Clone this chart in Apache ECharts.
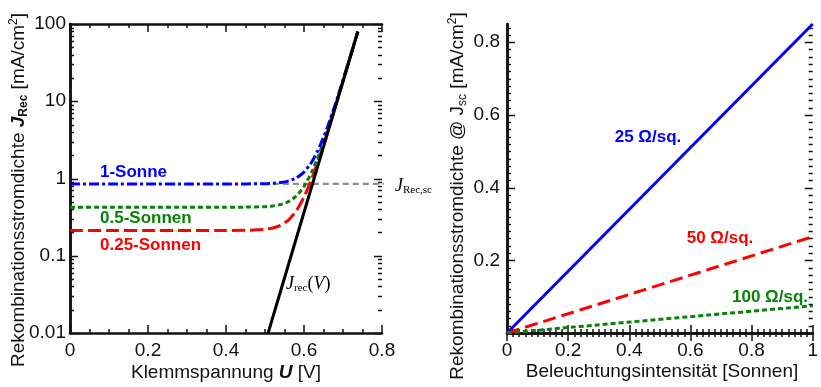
<!DOCTYPE html>
<html>
<head>
<meta charset="utf-8">
<script src="https://cdn.jsdelivr.net/npm/echarts@6/dist/echarts.min.js"></script>
<style>
  html, body { margin: 0; padding: 0; background: #fff; }
  #chart { width: 821px; height: 387px; }
</style>
</head>
<body>
<div id="chart"></div>
<script>
// Left panel: recombination current density vs. terminal voltage (log scale)
const voltage = [0, 0.1, 0.2, 0.3, 0.4, 0.45, 0.5, 0.52, 0.54, 0.56, 0.58, 0.6, 0.62, 0.64, 0.66, 0.68, 0.7, 0.72, 0.738];
const jOneSun = [0.85, 0.85, 0.85, 0.85, 0.85, 0.851, 0.857, 0.866, 0.885, 0.926, 1.016, 1.21, 1.64, 2.58, 4.62, 9.07, 18.8, 40.0, 80];
const jHalfSun = [0.425, 0.425, 0.425, 0.425, 0.425, 0.426, 0.432, 0.441, 0.46, 0.501, 0.591, 0.787, 1.215, 2.155, 4.195, 8.645, 18.3, 39.6, 79.4];
const jQuarterSun = [0.2125, 0.2125, 0.2125, 0.2125, 0.2125, 0.2135, 0.22, 0.229, 0.248, 0.289, 0.379, 0.575, 1.0, 1.94, 3.98, 8.43, 18.1, 39.4, 79.2];
const jrecVoltage = [0.508, 0.738];
const jrecValues = [0.01, 80];
const jscVoltage = [0.52, 0.838];
const jscValues = [0.85, 0.85];

// Right panel: recombination current density at Jsc vs. illumination
const intensity = [0, 1];
const rsh25 = [0, 0.85];
const rsh50 = [0, 0.265];
const rsh100 = [0, 0.075];

// Y tick positions (drawn inward on both sides of each frame)
const logMajorTicks = [0.01, 0.1, 1, 10, 100];
const logMinorTicks = [0.02, 0.03, 0.04, 0.05, 0.06, 0.07, 0.08, 0.09,
                       0.2, 0.3, 0.4, 0.5, 0.6, 0.7, 0.8, 0.9,
                       2, 3, 4, 5, 6, 7, 8, 9,
                       20, 30, 40, 50, 60, 70, 80, 90];
const linMajorTicks = [0.2, 0.4, 0.6, 0.8];
const linMinorTicks = [];
for (let i = 1; i <= 42; i++) { if (i % 10 !== 0) linMinorTicks.push(+(i * 0.02).toFixed(2)); }

const BLUE = '#0000ff', GREEN = '#0a820a', RED = '#ff0000', INK = '#111';
const SANS = 'Liberation Sans, Arial, sans-serif';
const SERIF = 'Liberation Serif, Times New Roman, serif';

const zip = (xs, ys) => xs.map((x, i) => [x, ys[i]]);

// Draws a short inward tick at the left and right edges of the grid for each value
function yTickRenderer(params, api) {
  const cs = params.coordSys;
  const len = api.value(2);
  const p = api.coord([api.value(0), api.value(1)]);
  const y = Math.round(p[1]) + 0.5;
  const st = { stroke: INK, lineWidth: 1.5 };
  return {
    type: 'group',
    children: [
      { type: 'line', shape: { x1: cs.x, y1: y, x2: cs.x + len, y2: y }, style: st },
      { type: 'line', shape: { x1: cs.x + cs.width, y1: y, x2: cs.x + cs.width - len, y2: y }, style: st }
    ]
  };
}
const tickData = (majors, minors) => majors.map(v => [0, v, 8]).concat(minors.map(v => [0, v, 4]));

const axisLineStyle = { show: true, lineStyle: { color: INK, width: 2.5 } };
const labelStyle = { color: INK, fontSize: 19, fontFamily: SANS };
const xTick = { inside: true, length: 8, lineStyle: { color: INK, width: 1.5 } };
const LW = 3;

const chart = echarts.init(document.getElementById('chart'), null, { renderer: 'canvas' });

chart.setOption({
  animation: false,
  backgroundColor: '#fff',
  grid: [
    { left: 70, top: 24, width: 312, height: 309 },
    { left: 507, top: 24, width: 311, height: 309 }
  ],
  xAxis: [
    { gridIndex: 0, type: 'value', min: 0, max: 0.8, interval: 0.2, position: 'bottom',
      axisLine: axisLineStyle, axisTick: xTick,
      minorTick: { show: true, splitNumber: 4, length: 4, lineStyle: { color: INK, width: 1.5 } },
      splitLine: { show: false }, minorSplitLine: { show: false },
      axisLabel: Object.assign({ margin: 8, formatter: v => String(+v.toFixed(1)) }, labelStyle) },
    { gridIndex: 0, type: 'value', min: 0, max: 0.8, interval: 0.2, position: 'top',
      axisLine: axisLineStyle, axisTick: xTick,
      minorTick: { show: true, splitNumber: 4, length: 4, lineStyle: { color: INK, width: 1.5 } },
      splitLine: { show: false }, axisLabel: { show: false } },
    { gridIndex: 1, type: 'value', min: 0, max: 1, interval: 0.2, position: 'bottom',
      axisLine: axisLineStyle, axisTick: xTick,
      minorTick: { show: true, splitNumber: 10, length: 4, lineStyle: { color: INK, width: 1.5 } },
      splitLine: { show: false }, minorSplitLine: { show: false },
      axisLabel: Object.assign({ margin: 8, formatter: v => String(+v.toFixed(1)) }, labelStyle) },
    { gridIndex: 1, type: 'value', min: 0, max: 1, interval: 0.2, position: 'top',
      axisLine: axisLineStyle, axisTick: xTick,
      minorTick: { show: true, splitNumber: 10, length: 4, lineStyle: { color: INK, width: 1.5 } },
      splitLine: { show: false }, axisLabel: { show: false } }
  ],
  yAxis: [
    { gridIndex: 0, type: 'log', logBase: 10, min: 0.01, max: 100, position: 'left',
      axisLine: axisLineStyle, axisTick: { show: false },
      minorTick: { show: false }, splitLine: { show: false },
      axisLabel: Object.assign({ margin: 4, formatter: v => String(+(+v).toPrecision(3)) }, labelStyle) },
    { gridIndex: 0, type: 'log', logBase: 10, min: 0.01, max: 100, position: 'right',
      axisLine: axisLineStyle, axisTick: { show: false },
      minorTick: { show: false }, splitLine: { show: false }, axisLabel: { show: false } },
    { gridIndex: 1, type: 'value', min: 0, max: 0.85, interval: 0.2, position: 'left',
      axisLine: axisLineStyle, axisTick: { show: false },
      minorTick: { show: false }, splitLine: { show: false },
      axisLabel: Object.assign({ margin: 7, showMaxLabel: false,
        formatter: v => (v < 0.01 || v > 0.81) ? '' : v.toFixed(1) }, labelStyle) },
    { gridIndex: 1, type: 'value', min: 0, max: 0.85, interval: 0.2, position: 'right',
      axisLine: axisLineStyle, axisTick: { show: false },
      minorTick: { show: false }, splitLine: { show: false }, axisLabel: { show: false } }
  ],
  series: [
    // inward y ticks for both frames
    { type: 'custom', xAxisIndex: 0, yAxisIndex: 0, silent: true, clip: false, z: 5,
      renderItem: yTickRenderer, data: tickData(logMajorTicks, logMinorTicks) },
    { type: 'custom', xAxisIndex: 2, yAxisIndex: 2, silent: true, clip: false, z: 5,
      renderItem: yTickRenderer, data: tickData(linMajorTicks, linMinorTicks) },

    // left panel curves
    { name: 'JRec,sc', type: 'line', xAxisIndex: 0, yAxisIndex: 0, clip: false, symbol: 'none',
      lineStyle: { color: '#8c8c8c', width: 2.2, type: [6, 4] }, data: zip(jscVoltage, jscValues), z: 2 },
    { name: '0.25-Sonnen', type: 'line', xAxisIndex: 0, yAxisIndex: 0, symbol: 'none', smooth: 0.2,
      lineStyle: { color: RED, width: LW, type: [13, 5] }, data: zip(voltage, jQuarterSun), z: 3 },
    { name: '0.5-Sonnen', type: 'line', xAxisIndex: 0, yAxisIndex: 0, symbol: 'none', smooth: 0.2,
      lineStyle: { color: GREEN, width: LW, type: [5, 3] }, data: zip(voltage, jHalfSun), z: 3 },
    { name: '1-Sonne', type: 'line', xAxisIndex: 0, yAxisIndex: 0, symbol: 'none', smooth: 0.2,
      lineStyle: { color: BLUE, width: LW, type: [10, 3, 3, 3] }, data: zip(voltage, jOneSun), z: 3 },
    { name: 'Jrec(V)', type: 'line', xAxisIndex: 0, yAxisIndex: 0, symbol: 'none',
      lineStyle: { color: '#000', width: LW }, data: zip(jrecVoltage, jrecValues), z: 4 },

    // right panel lines
    { name: '25 Ω/sq.', type: 'line', xAxisIndex: 2, yAxisIndex: 2, symbol: 'none',
      lineStyle: { color: BLUE, width: LW }, data: zip(intensity, rsh25) },
    { name: '50 Ω/sq.', type: 'line', xAxisIndex: 2, yAxisIndex: 2, symbol: 'none',
      lineStyle: { color: RED, width: LW, type: [13, 6] }, data: zip(intensity, rsh50) },
    { name: '100 Ω/sq.', type: 'line', xAxisIndex: 2, yAxisIndex: 2, symbol: 'none',
      lineStyle: { color: GREEN, width: LW, type: [5, 3] }, data: zip(intensity, rsh100) }
  ],
  graphic: [
    // axis titles
    { type: 'text', x: 19, y: 190, rotation: Math.PI / 2, z: 10,
      style: { text: '{n|Rekombinationsstromdichte }{j|J}{js|Rec}{n| [mA/cm}{sup|2}{n|]}',
        align: 'center', verticalAlign: 'middle',
        rich: {
          n: { fontSize: 19, fontFamily: SANS, fill: INK, lineHeight: 22 },
          j: { fontSize: 19, fontFamily: SANS, fill: INK, fontWeight: 'bold', fontStyle: 'italic', lineHeight: 22 },
          js: { fontSize: 12, fontFamily: SANS, fill: INK, fontWeight: 'bold', verticalAlign: 'bottom', lineHeight: 22 },
          sup: { fontSize: 12, fontFamily: SANS, fill: INK, verticalAlign: 'top', lineHeight: 22 }
        } } },
    { type: 'text', x: 458, y: 196, rotation: Math.PI / 2, z: 10,
      style: { text: '{n|Rekombinationsstromdichte @ J}{s|sc}{n| [mA/cm}{sup|2}{n|]}',
        align: 'center', verticalAlign: 'middle',
        rich: {
          n: { fontSize: 19, fontFamily: SANS, fill: INK, lineHeight: 22 },
          s: { fontSize: 12, fontFamily: SANS, fill: INK, verticalAlign: 'bottom', lineHeight: 22 },
          sup: { fontSize: 12, fontFamily: SANS, fill: INK, verticalAlign: 'top', lineHeight: 22 }
        } } },
    { type: 'text', x: 226, y: 373, z: 10,
      style: { text: '{n|Klemmspannung }{u|U}{n| [V]}', align: 'center', verticalAlign: 'middle',
        rich: {
          n: { fontSize: 19, fontFamily: SANS, fill: INK },
          u: { fontSize: 19, fontFamily: SANS, fill: INK, fontWeight: 'bold', fontStyle: 'italic' }
        } } },
    { type: 'text', x: 662, y: 372, z: 10,
      style: { text: 'Beleuchtungsintensität [Sonnen]', align: 'center', verticalAlign: 'middle',
        fontSize: 19, fontFamily: SANS, fill: INK } },

    // left panel annotations
    { type: 'text', x: 100, y: 172, z: 10,
      style: { text: '1-Sonne', align: 'left', verticalAlign: 'middle', fontSize: 17, fontWeight: 'bold', fontFamily: SANS, fill: BLUE } },
    { type: 'text', x: 100, y: 218, z: 10,
      style: { text: '0.5-Sonnen', align: 'left', verticalAlign: 'middle', fontSize: 17, fontWeight: 'bold', fontFamily: SANS, fill: GREEN } },
    { type: 'text', x: 100, y: 245, z: 10,
      style: { text: '0.25-Sonnen', align: 'left', verticalAlign: 'middle', fontSize: 17, fontWeight: 'bold', fontFamily: SANS, fill: RED } },
    { type: 'text', x: 286, y: 284, z: 10,
      style: { text: '{i|J}{s|rec}{n|(}{i|V}{n|)}', align: 'left', verticalAlign: 'middle',
        rich: {
          i: { fontSize: 18, fontFamily: SERIF, fontStyle: 'italic', fill: '#000', lineHeight: 20 },
          n: { fontSize: 18, fontFamily: SERIF, fill: '#000', lineHeight: 20 },
          s: { fontSize: 11, fontFamily: SERIF, fill: '#000', verticalAlign: 'bottom', lineHeight: 20 }
        } } },
    { type: 'text', x: 395, y: 186, z: 10,
      style: { text: '{i|J}{s|Rec,sc}', align: 'left', verticalAlign: 'middle',
        rich: {
          i: { fontSize: 18, fontFamily: SERIF, fontStyle: 'italic', fill: '#000', lineHeight: 20 },
          s: { fontSize: 11, fontFamily: SERIF, fill: '#000', verticalAlign: 'bottom', lineHeight: 20 }
        } } },

    // right panel annotations
    { type: 'text', x: 648, y: 137, z: 10,
      style: { text: '25 Ω/sq.', align: 'center', verticalAlign: 'middle', fontSize: 17, fontWeight: 'bold', fontFamily: SANS, fill: BLUE } },
    { type: 'text', x: 720, y: 238, z: 10,
      style: { text: '50 Ω/sq.', align: 'center', verticalAlign: 'middle', fontSize: 17, fontWeight: 'bold', fontFamily: SANS, fill: RED } },
    { type: 'text', x: 770, y: 297, z: 10,
      style: { text: '100 Ω/sq.', align: 'center', verticalAlign: 'middle', fontSize: 17, fontWeight: 'bold', fontFamily: SANS, fill: GREEN } }
  ]
});
</script>
</body>
</html>
